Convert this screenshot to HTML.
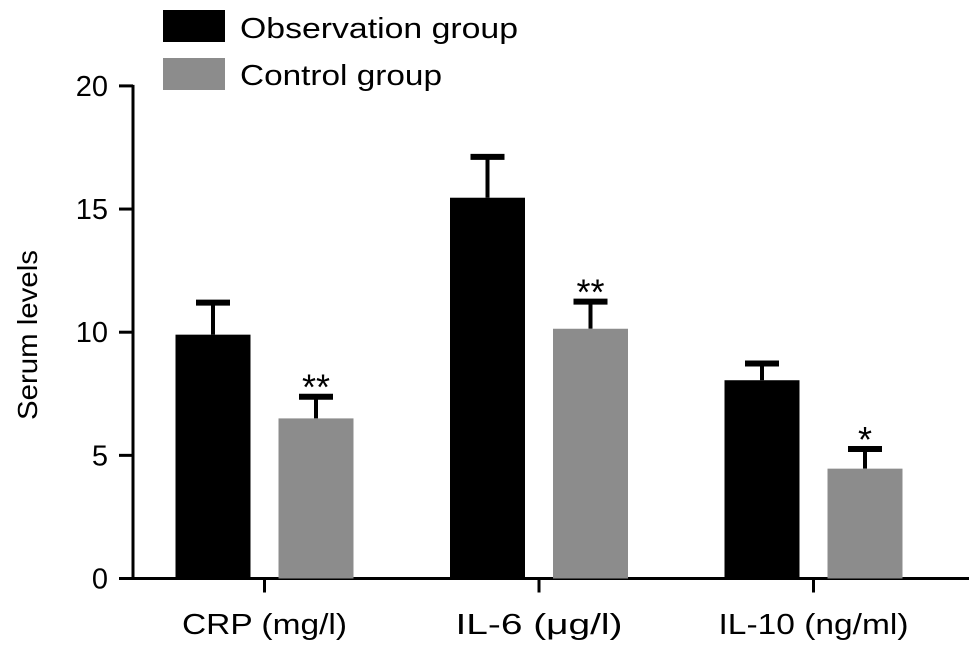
<!DOCTYPE html>
<html><head><meta charset="utf-8"><style>
body{margin:0;background:#fff}
svg text{font-family:"Liberation Sans",Arial,sans-serif;fill:#000}
</style></head><body>
<svg id="chart" width="969" height="655" viewBox="0 0 969 655" xmlns="http://www.w3.org/2000/svg">
<g id="legend">
<rect x="163" y="10" width="62" height="32" fill="#000"/>
<text x="240" y="38" font-size="29" textLength="278" lengthAdjust="spacingAndGlyphs">Observation group</text>
<rect x="163" y="58" width="62" height="32" fill="#8c8c8c"/>
<text x="240" y="85" font-size="29" textLength="202" lengthAdjust="spacingAndGlyphs">Control group</text>
</g>
<text transform="translate(37,335) rotate(-90)" text-anchor="middle" font-size="28" textLength="170" lengthAdjust="spacingAndGlyphs">Serum levels</text>
<g id="plot"></g>
</svg>
<script>
const categories=["CRP (mg/l)","IL-6 (\u03bcg/l)","IL-10 (ng/ml)"];
const observation=[9.9,15.46,8.05];
const observationErr=[1.3,1.66,0.68];
const control=[6.5,10.14,4.46];
const controlErr=[0.88,1.1,0.8];
const marks=["**","**","*"];
const yTicks=[0,5,10,15,20];
const NS="http://www.w3.org/2000/svg";
const g=document.getElementById('plot');
const y0=578.5, pxPerUnit=24.63, axisX=133;
const labelWidths=[165,167,190];
function y(v){return y0-v*pxPerUnit;}
function cx(i){return 264.5+i*274.5;}
function mk(tag,attrs){const e=document.createElementNS(NS,tag);for(const k in attrs)e.setAttribute(k,attrs[k]);g.appendChild(e);return e;}
let e;
e=mk('line',{x1:axisX,y1:y(20)-1,x2:axisX,y2:y0+1.5,stroke:'#000','stroke-width':3});


e=mk('line',{x1:axisX-1.5,y1:y0,x2:969,y2:y0,stroke:'#000','stroke-width':3});


yTicks.forEach(t=>{
 e=mk('line',{x1:119,y1:y(t),x2:axisX,y2:y(t),stroke:'#000','stroke-width':3});
 
 
 e=mk('text',{x:108,y:y(t)+10,'text-anchor':'end','font-size':29});
 e.textContent=t;
 
 
});
const bw=75;
function bar(xl,v,err,color,name){
 const top=y(v), cap=y(v+err), c=xl+bw/2;
 e=mk('line',{x1:c,y1:top,x2:c,y2:cap,stroke:'#000','stroke-width':4});
 
 
 e=mk('line',{x1:c-17,y1:cap,x2:c+17,y2:cap,stroke:'#000','stroke-width':6});
 
 
 e=mk('rect',{x:xl,y:top,width:bw,height:y0-top,fill:color});
 
 
}
categories.forEach((c,i)=>{
 const m=cx(i);
 bar(m-89,observation[i],observationErr[i],'#000','bar-observation-'+i);
 bar(m+14,control[i],controlErr[i],'#8c8c8c','bar-control-'+i);
 e=mk('text',{x:m+14+bw/2,y:y(control[i]+controlErr[i])+3,'text-anchor':'middle','font-size':36});
 e.textContent=marks[i];
 
 
 e=mk('line',{x1:m,y1:y0,x2:m,y2:y0+14,stroke:'#000','stroke-width':3});
 
 
 e=mk('text',{x:m,y:634,'text-anchor':'middle','font-size':29,textLength:labelWidths[i],lengthAdjust:'spacingAndGlyphs'});
 e.textContent=c;
 
 
});
</script>
</body></html>
